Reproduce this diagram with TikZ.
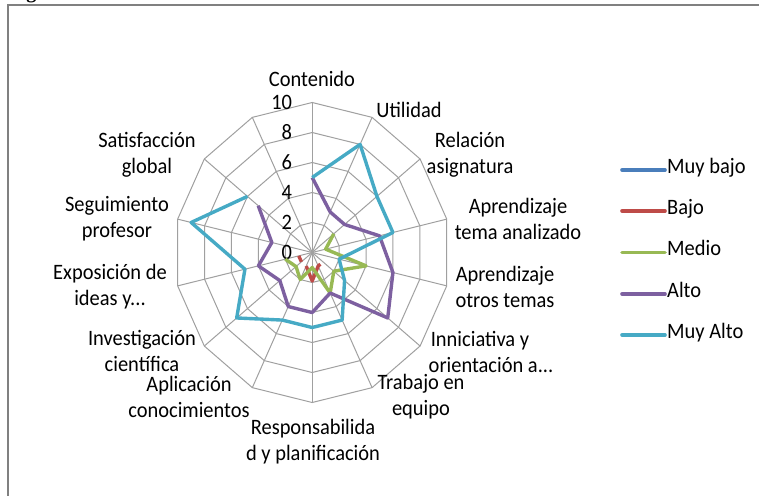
\documentclass[tikz,border=0pt]{standalone}
\usepackage{fontspec}
\setmainfont{Carlito}[FakeStretch=0.93]
\newfontfamily\capfont{Liberation Serif}
\usetikzlibrary{calc}
\definecolor{gridc}{HTML}{A0A0A0}
\definecolor{framec}{HTML}{808080}
\definecolor{cMB}{HTML}{4A7EBB}
\definecolor{cB}{HTML}{BE4B48}
\definecolor{cM}{HTML}{98B954}
\definecolor{cA}{HTML}{7D60A0}
\definecolor{cMA}{HTML}{46AAC5}
\begin{document}
\begin{tikzpicture}[x=1pt,y=-1pt,
  lbl/.style={font=\fontsize{22}{26}\selectfont, align=center, inner sep=0pt, text=black},
  gridline/.style={draw=gridc, line width=1pt},
  series/.style={line width=3.4pt, line join=round},
  legline/.style={line width=3.6pt, line cap=round}]
\useasboundingbox (0,0) rectangle (759,495);
\fill[white] (0,0) rectangle (759,495);
% caption fragment and frame
\node[font=\capfont\bfseries\fontsize{20}{20}\selectfont, anchor=base, inner sep=0pt] (figg) at (31.3,-1.4) {g};
\coordinate (frbl) at (7.5,496);
\coordinate (frtl) at (7.5,5);
\coordinate (frtr) at (760,5);
\draw[framec, line width=2pt] (frbl) -- (frtl) -- (frtr);

% ---------- radar chart ----------
\begin{scope}[shift={(312.2,252.5)}, x=13.8pt, y=-15pt]
  \coordinate (ctr) at (0,0);
  \foreach \r in {2,4,6,8,10} {
    \draw[gridline] (0,-\r) \foreach \k in {1,...,13} { -- ({\r*sin(\k*360/14)},{-\r*cos(\k*360/14)}) } -- cycle;
  }
  \foreach \k in {0,...,13} {
    \coordinate (ax\k) at ({10*sin(\k*360/14)},{-10*cos(\k*360/14)});
    \draw[gridline] (ctr) -- (ax\k);
  }
  \foreach \v in {0,2,4,6,8,10} {
    \node[lbl, anchor=east] (val\v) at (-1.45,-\v) {\v};
  }
  % data points
  \foreach \v [count=\k from 0] in {5,8,6,6,2,3,5,5,5,7,5,9,6}
    \coordinate (ma\k) at ({\v*sin(\k*360/14)},{-\v*cos(\k*360/14)});
  \foreach \v [count=\k from 0] in {5,3,3,5,6,7,3,4,4,3,4,3,5}
    \coordinate (al\k) at ({\v*sin(\k*360/14)},{-\v*cos(\k*360/14)});
  \foreach \v [count=\k from 2] in {2,1,4,2,3,1,2,1.5,2}
    \coordinate (me\k) at ({\v*sin(\k*360/14)},{-\v*cos(\k*360/14)});
  \foreach \v [count=\k from 5] in {1,1,1.9,1,1,1}
    \coordinate (ba\k) at ({\v*sin(\k*360/14)},{-\v*cos(\k*360/14)});
  % Bajo (fragments)
  \draw[series, cB] (ba10) -- (ba9);
  \draw[series, cB] (ba8) -- (ba7) -- (ba6) -- ($(ba6)!0.45!(ba5)$);
  % Medio
  \draw[series, cM] (me2) \foreach \k in {3,...,10} { -- (me\k) };
  % Alto
  \draw[series, cA] (al0) \foreach \k in {1,...,12} { -- (al\k) };
  % Muy Alto
  \draw[series, cMA] (ma0) \foreach \k in {1,...,12} { -- (ma\k) };
\end{scope}

% ---------- category labels ----------
\node[lbl] (c0) at (312,79) {Contenido};
\node[lbl] (c1) at (409,110) {Utilidad};
\node[lbl] (c2) at (470,155) {Relación\\asignatura};
\node[lbl] (c3) at (518,219) {Aprendizaje\\tema analizado};
\node[lbl] (c4) at (505,287) {Aprendizaje\\otros temas};
\node[lbl] (c5) at (491,352) {Inniciativa y\hspace*{22pt}\\orientación a...};
\node[lbl] (c6) at (421,397) {Trabajo en\\equipo};
\node[lbl] (c7) at (313,442) {Responsabilida\\d y planificación};
\node[lbl] (c8) at (189,397) {Aplicación\\conocimientos};
\node[lbl] (c9) at (142,351) {Investigación\\científica};
\node[lbl] (c10) at (110,287) {Exposición de\\ideas y...};
\node[lbl] (c11) at (117,219) {Seguimiento\\profesor};
\node[lbl] (c12) at (147,155) {Satisfacción\\global};

% ---------- legend ----------
\coordinate (lg1a) at (622,170);   \coordinate (lg1b) at (665,170);
\coordinate (lg2a) at (622,211);   \coordinate (lg2b) at (665,211);
\coordinate (lg3a) at (622,252.5); \coordinate (lg3b) at (665,252.5);
\coordinate (lg4a) at (622,294);   \coordinate (lg4b) at (665,294);
\coordinate (lg5a) at (622,335);   \coordinate (lg5b) at (665,335);
\draw[legline, cMB] (lg1a) -- (lg1b);
\draw[legline, cB]  (lg2a) -- (lg2b);
\draw[legline, cM]  (lg3a) -- (lg3b);
\draw[legline, cA]  (lg4a) -- (lg4b);
\draw[legline, cMA] (lg5a) -- (lg5b);
\node[lbl, anchor=mid west] (lt1) at (667,171) {Muy bajo};
\node[lbl, anchor=mid west] (lt2) at (667,212) {Bajo};
\node[lbl, anchor=mid west] (lt3) at (667,253.5) {Medio};
\node[lbl, anchor=mid west] (lt4) at (667,295) {Alto};
\node[lbl, anchor=mid west] (lt5) at (667,336) {Muy Alto};
\end{tikzpicture}
\end{document}
